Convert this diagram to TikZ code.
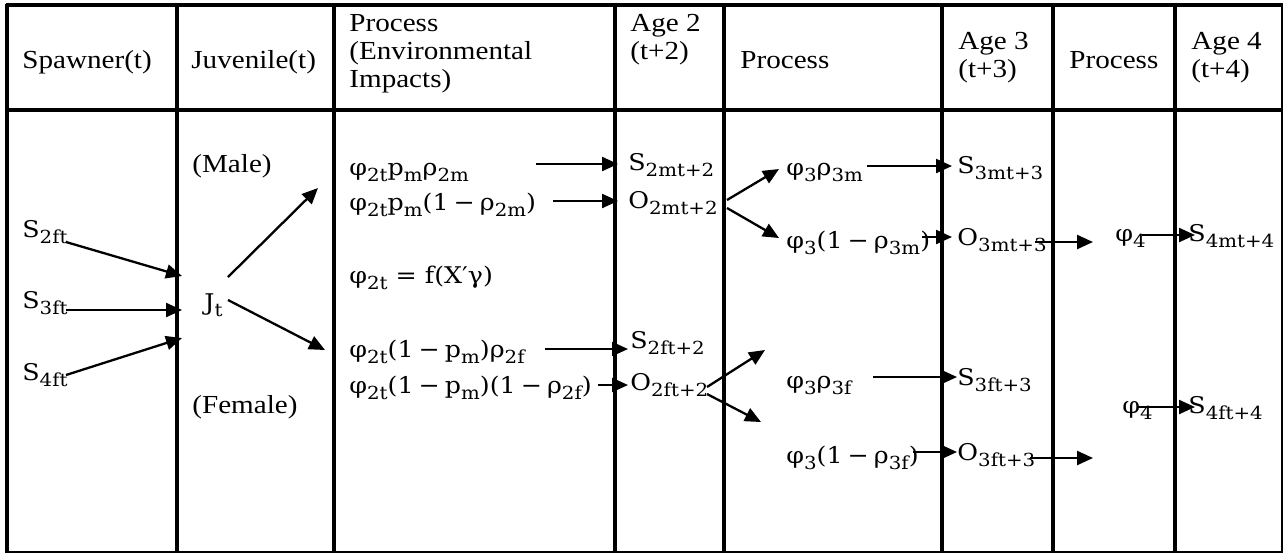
\documentclass[tikz,border=0pt]{standalone}
\usepackage{fontspec}
\setmainfont{Liberation Serif}[FakeStretch=1.12]
\newfontfamily\mfont{DejaVu Serif}[FakeStretch=1.1]
\usetikzlibrary{arrows.meta}
\newcommand\sbs[1]{\raisebox{-0.3em}{\fontsize{9}{10}\selectfont #1}}
\newcommand\mminus{\hspace{0.22em}−\hspace{0.22em}}
\tikzset{
  hdr/.style={font=\fontsize{13}{14}\selectfont, anchor=base west, inner sep=0pt},
  mth/.style={font=\mfont\fontsize{11.5}{13}\selectfont, anchor=base west, inner sep=0pt},
  arr/.style={-{Triangle[length=8pt,width=7pt]}, line width=1.15pt},
  tbl/.style={line width=1.6pt},
  tblthick/.style={line width=1.9pt},
  tblthin/.style={line width=1.1pt}
}
\begin{document}
\begin{tikzpicture}[x=0.5pt,y=-0.5pt]
\useasboundingbox (0,0) rectangle (1284,554);
% table grid
\draw[tblthick] (6,5) -- (1283,5);
\draw[tblthick] (6,110) -- (1283,110);
\draw[tblthin] (6,552) -- (1283,552);
\foreach \x in {7,177,334,615,724,942,1053,1175} \draw[tbl] (\x,4) -- (\x,553);
\draw[tblthin] (1282,4) -- (1282,553);
% header
\node[hdr] (h1) at (22,68) {Spawner(t)};
\node[hdr] (h2) at (191,68) {Juvenile(t)};
\node[hdr] (h3a) at (349,31) {Process};
\node[hdr] (h3b) at (349,59) {(Environmental};
\node[hdr] (h3c) at (349,87) {Impacts)};
\node[hdr] (h4a) at (630,31) {Age 2};
\node[hdr] (h4b) at (630,59) {(t+2)};
\node[hdr] (h5) at (740,68) {Process};
\node[hdr] (h6a) at (958,49) {Age 3};
\node[hdr] (h6b) at (958,77) {(t+3)};
\node[hdr] (h7) at (1069,68) {Process};
\node[hdr] (h8a) at (1191,49) {Age 4};
\node[hdr] (h8b) at (1191,77) {(t+4)};
% body text
\node[hdr] (male) at (192,172) {(Male)};
\node[hdr] (female) at (192,413) {(Female)};
\node[mth] (s2ft) at (22,237) {S\sbs{2ft}};
\node[mth] (s3ft) at (22,308) {S\sbs{3ft}};
\node[mth] (s4ft) at (22,380) {S\sbs{4ft}};
\node[mth] (jt) at (204,310) {J\sbs{t}};
\node[mth] (pa) at (349,175) {φ\sbs{2t}p\sbs{m}ρ\sbs{2m}};
\node[mth] (pb) at (349,210) {φ\sbs{2t}p\sbs{m}(1\mminus ρ\sbs{2m})};
\node[mth] (pc) at (349,283) {φ\sbs{2t} = f(X′γ)};
\node[mth] (pd) at (349,357) {φ\sbs{2t}(1\mminus p\sbs{m})ρ\sbs{2f}};
\node[mth] (pe) at (349,393) {φ\sbs{2t}(1\mminus p\sbs{m})(1\mminus ρ\sbs{2f})};
\node[mth] (s2m) at (628,170) {S\sbs{2mt+2}};
\node[mth] (o2m) at (628,208) {O\sbs{2mt+2}};
\node[mth] (s2f) at (630,348) {S\sbs{2ft+2}};
\node[mth] (o2f) at (630,390) {O\sbs{2ft+2}};
\node[mth] (p3m) at (786,175) {φ\sbs{3}ρ\sbs{3m}};
\node[mth] (q3m) at (786,248) {φ\sbs{3}(1\mminus ρ\sbs{3m})};
\node[mth] (s3m) at (957,173) {S\sbs{3mt+3}};
\node[mth] (o3m) at (957,245) {O\sbs{3mt+3}};
\node[mth] (p3f) at (786,388) {φ\sbs{3}ρ\sbs{3f}};
\node[mth] (q3f) at (786,463) {φ\sbs{3}(1\mminus ρ\sbs{3f})};
\node[mth] (s3f) at (957,385) {S\sbs{3ft+3}};
\node[mth] (o3f) at (957,460) {O\sbs{3ft+3}};
\node[mth] (p4m) at (1115,241) {φ\sbs{4}};
\node[mth] (s4m) at (1188,241) {S\sbs{4mt+4}};
\node[mth] (p4f) at (1122,413) {φ\sbs{4}};
\node[mth] (s4f) at (1188,413) {S\sbs{4ft+4}};
% arrow end points
\coordinate (a1s) at (66,242);   \coordinate (a1e) at (182,276);
\coordinate (a2s) at (66,310);   \coordinate (a2e) at (182,310);
\coordinate (a3s) at (66,375);   \coordinate (a3e) at (182,338);
\coordinate (a4s) at (228,277);  \coordinate (a4e) at (318,188);
\coordinate (a5s) at (228,300);  \coordinate (a5e) at (325,350);
\coordinate (a6s) at (536,164);  \coordinate (a6e) at (618,164);
\coordinate (a7s) at (553,201);  \coordinate (a7e) at (618,201);
\coordinate (a8s) at (545,349);  \coordinate (a8e) at (628,349);
\coordinate (a9s) at (598,385);  \coordinate (a9e) at (628,385);
\coordinate (a10s) at (727,200); \coordinate (a10e) at (779,169);
\coordinate (a11s) at (727,208); \coordinate (a11e) at (779,238);
\coordinate (a12s) at (867,166); \coordinate (a12e) at (952,166);
\coordinate (a13s) at (922,237); \coordinate (a13e) at (952,237);
\coordinate (a14s) at (707,387); \coordinate (a14e) at (765,350);
\coordinate (a15s) at (707,394); \coordinate (a15e) at (761,422);
\coordinate (a16s) at (873,377); \coordinate (a16e) at (957,377);
\coordinate (a17s) at (913,452); \coordinate (a17e) at (957,452);
\coordinate (a18s) at (1035,242);\coordinate (a18e) at (1093,242);
\coordinate (a19s) at (1142,235);\coordinate (a19e) at (1195,235);
\coordinate (a20s) at (1138,407);\coordinate (a20e) at (1195,407);
\coordinate (a21s) at (1030,458);\coordinate (a21e) at (1093,458);
\foreach \i in {1,...,21} \draw[arr] (a\i s) -- (a\i e);
\end{tikzpicture}
\end{document}
